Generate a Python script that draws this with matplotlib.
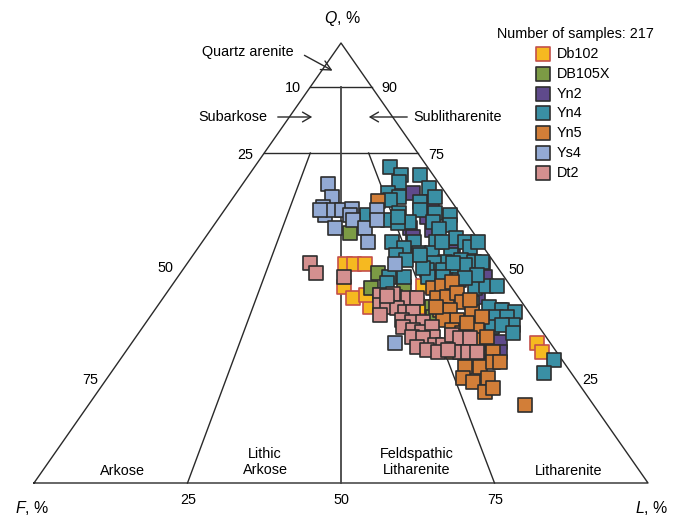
import numpy as np
import matplotlib
matplotlib.use("Agg")
import matplotlib.pyplot as plt

plt.rcParams['font.family'] = ['Liberation Sans', 'DejaVu Sans']
plt.rcParams['mathtext.fontset'] = 'custom'
plt.rcParams['mathtext.it'] = 'Liberation Sans:italic'
plt.rcParams['mathtext.rm'] = 'Liberation Sans'

# sample compositions, Q and L in percent (F is the rest)
db102_q = [49.8, 49.8, 49.8, 44.5, 42.0, 40.0, 44.8, 40.0, 42.7, 31.8, 29.8, 37.7, 37.5]
db102_l = [25.8, 27.2, 29.0, 28.2, 31.0, 34.7, 41.0, 43.4, 32.7, 66.0, 67.8, 45.9, 52.7]

db105x_q = [56.8, 47.7, 44.3, 44.5, 42.3, 40.0, 37.7, 42.7]
db105x_l = [23.1, 32.2, 32.8, 38.0, 37.7, 44.8, 46.1, 35.0]

yn2_q = [65.9, 63.9, 58.0, 55.9, 57.5, 52.5, 50.7, 49.5, 46.8, 42.3, 39.3, 35.5, 31.8, 32.0, 29.8, 60.5]
yn2_l = [28.8, 32.9, 32.2, 33.8, 36.1, 42.0, 42.8, 48.4, 50.1, 51.2, 56.3, 56.6, 58.0, 59.9, 61.0, 33.8]

yn4_q = [71.8, 70.0, 70.0, 68.4, 67.0, 65.9, 65.0, 65.0, 63.9, 64.3,
         61.4, 60.9, 62.0, 61.4, 60.9, 59.8, 59.3, 59.3, 58.6, 57.7,
         59.1, 55.7, 54.8, 54.8, 54.8, 54.8, 53.6, 53.4, 52.3, 52.3,
         51.8, 51.8, 50.2, 50.0, 50.7, 50.2, 50.2, 50.7, 48.4, 48.4,
         48.4, 47.3, 44.3, 44.8, 44.8, 46.8, 46.8, 46.8, 46.1, 46.1,
         40.9, 40.0, 39.3, 38.9, 37.7, 37.7, 35.9, 35.5, 35.9, 34.1,
         28.0, 25.0, 54.8, 45.5, 49.5, 50.0, 48.9, 60.5, 54.8, 51.8,
         47.3, 46.8, 46.6]
yn4_l = [22.1, 24.8, 27.9, 25.2, 30.8, 24.7, 26.9, 32.8, 30.9, 25.8,
         28.7, 23.8, 31.9, 34.6, 37.3, 27.8, 31.4, 35.3, 38.5, 37.1,
         29.7, 40.9, 42.8, 30.9, 34.5, 38.1, 44.2, 33.6, 36.6, 38.7,
         33.1, 42.0, 41.8, 40.2, 44.2, 46.6, 47.9, 35.3, 39.8, 44.4,
         42.4, 46.8, 49.6, 51.2, 53.0, 34.4, 36.9, 40.8, 44.1, 46.2,
         50.9, 54.1, 56.6, 58.9, 56.4, 58.2, 60.1, 56.9, 58.3, 61.0,
         70.7, 70.6, 44.9, 34.8, 45.4, 43.2, 38.9, 29.0, 39.1, 37.0,
         48.5, 43.2, 46.9]

yn5_q = [64.1, 44.3, 44.8, 45.7, 42.0, 42.3, 43.2, 41.1, 39.3, 39.3,
         37.0, 38.9, 37.7, 37.0, 34.8, 34.1, 34.8, 32.5, 29.8, 29.8,
         29.8, 29.8, 26.4, 26.4, 27.5, 27.5, 23.9, 23.0, 23.9, 20.7,
         21.6, 17.7, 36.4, 33.2, 41.6, 40.0]
yn5_l = [23.9, 42.9, 44.1, 45.3, 44.6, 46.1, 47.3, 49.2, 46.5, 48.1,
         50.4, 51.9, 54.1, 48.1, 50.7, 52.7, 54.8, 55.3, 53.3, 55.3,
         57.4, 59.9, 57.0, 59.4, 61.0, 62.2, 58.0, 60.0, 62.0, 63.1,
         64.0, 71.1, 52.3, 57.2, 50.2, 45.5]

ys4_q = [68.0, 65.0, 62.7, 60.9, 62.0, 62.0, 62.3, 60.9, 59.8, 58.0,
         58.0, 54.8, 62.0, 59.8, 49.8, 31.8, 62.0]
ys4_l = [13.9, 16.0, 15.7, 16.9, 17.7, 19.2, 20.6, 21.0, 22.1, 20.0,
         24.9, 27.0, 24.9, 26.0, 33.9, 42.9, 15.6]

dt2_q = [50.0, 47.7, 46.8, 42.7, 43.0, 42.0, 42.0, 40.5, 40.0, 39.8,
         38.9, 38.9, 38.2, 37.0, 36.6, 36.6, 35.5, 34.8, 34.3, 35.5,
         33.2, 33.2, 33.0, 31.4, 31.4, 30.9, 30.2, 29.8, 33.6, 33.0,
         33.0, 29.8, 29.8, 29.8, 42.5, 30.2]
dt2_l = [20.0, 22.1, 27.1, 35.0, 37.0, 39.9, 41.4, 36.1, 37.5, 39.2,
         41.0, 42.3, 37.3, 41.4, 43.3, 45.1, 42.4, 44.3, 46.0, 47.1,
         48.4, 45.0, 46.9, 49.6, 50.9, 46.9, 48.9, 50.9, 51.3, 52.9,
         54.5, 54.5, 55.8, 57.3, 36.3, 52.3]

names = ['Db102', 'DB105X', 'Yn2', 'Yn4', 'Yn5', 'Ys4', 'Dt2']
q_vals = [db102_q, db105x_q, yn2_q, yn4_q, yn5_q, ys4_q, dt2_q]
l_vals = [db102_l, db105x_l, yn2_l, yn4_l, yn5_l, ys4_l, dt2_l]
faces = ['#f6b920', '#7c9b45', '#5f4a8b', '#3a8fa4', '#d27e38', '#93aad4', '#d4908f']
edges = ['#c4504a', '#2e2e2e', '#2e2e2e', '#2e2e2e', '#2e2e2e', '#2e2e2e', '#2e2e2e']

# triangle corners in drawing units
F_PT = np.array([34.0, 483.0])
L_PT = np.array([648.0, 483.0])
Q_PT = np.array([341.0, 43.0])


def tern(q, l):
    q = np.asarray(q, dtype=float) / 100.0
    l = np.asarray(l, dtype=float) / 100.0
    f = 1.0 - q - l
    x = f * F_PT[0] + l * L_PT[0] + q * Q_PT[0]
    y = f * F_PT[1] + l * L_PT[1] + q * Q_PT[1]
    return x, y


fig = plt.figure(figsize=(6.73, 5.16), dpi=100)
ax = fig.add_axes([0, 0, 1, 1])
ax.set_xlim(0, 673)
ax.set_ylim(516, 0)
ax.axis('off')

lc = '#2a2a2a'
# outer triangle
tx, ty = tern([0, 0, 100, 0], [0, 100, 0, 0])
ax.plot(tx, ty, color=lc, lw=1.0, zorder=1)
# field boundaries
for (q0, l0), (q1, l1) in [((90, 0), (90, 10)), ((75, 0), (75, 25)),
                           ((75, 7.5), (0, 25)), ((75, 17), (0, 75))]:
    x, y = tern([q0, q1], [l0, l1])
    ax.plot(x, y, color=lc, lw=1.0, zorder=1)
x, y = tern([90, 0], [5, 50])
ax.plot(x, y, color='#444444', lw=1.3, zorder=1)

# samples
msize = 92
for i in range(len(names)):
    x, y = tern(q_vals[i], l_vals[i])
    ax.scatter(x, y, marker='s', s=msize, facecolor=faces[i], edgecolor=edges[i],
               linewidth=1.2, zorder=3 + i)

fs = 10.4
ax.text(342, 18, r'$Q$, %', fontsize=fs + 1, ha='center', va='center')
ax.text(32, 508, r'$F$, %', fontsize=fs + 1, ha='center', va='center')
ax.text(652, 508, r'$L$, %', fontsize=fs + 1, ha='center', va='center')

# scale numbers
for s, px, py in [('10', 293, 88), ('90', 389, 88), ('25', 245, 155), ('75', 436, 155),
                  ('50', 165, 268), ('50', 516, 270), ('75', 90, 380), ('25', 590, 380),
                  ('25', 188, 500), ('50', 341, 500), ('75', 495, 500)]:
    ax.text(px, py, s, fontsize=fs, ha='center', va='center')

# field names
ax.text(248, 52, 'Quartz arenite', fontsize=fs, ha='center', va='center')
ax.annotate('', xy=(335, 72), xytext=(302, 54),
            arrowprops=dict(arrowstyle='->,head_length=0.7,head_width=0.35', color=lc, lw=1.0))
ax.text(233, 117, 'Subarkose', fontsize=fs, ha='center', va='center')
ax.annotate('', xy=(315, 117), xytext=(275, 117),
            arrowprops=dict(arrowstyle='->,head_length=0.6,head_width=0.35', color=lc, lw=1.0))
ax.text(413, 117, 'Sublitharenite', fontsize=fs, ha='left', va='center')
ax.annotate('', xy=(366, 117), xytext=(410, 117),
            arrowprops=dict(arrowstyle='->,head_length=0.6,head_width=0.35', color=lc, lw=1.0))
ax.text(122, 471, 'Arkose', fontsize=fs, ha='center', va='center')
ax.text(265, 462, 'Lithic\nArkose', fontsize=fs, ha='center', va='center', linespacing=1.15)
ax.text(417, 462, 'Feldspathic\nLitharenite', fontsize=fs, ha='center', va='center', linespacing=1.15)
ax.text(569, 471, 'Litharenite', fontsize=fs, ha='center', va='center')

# legend
ax.text(575, 34, 'Number of samples: 217', fontsize=fs, ha='center', va='center')
for i, nm in enumerate(names):
    ly = 54 + 19.8 * i
    ax.scatter([543], [ly], marker='s', s=msize, facecolor=faces[i], edgecolor=edges[i],
               linewidth=1.2, zorder=10)
    ax.text(557, ly, nm, fontsize=fs, ha='left', va='center')

fig.savefig('out.png', dpi=100)
